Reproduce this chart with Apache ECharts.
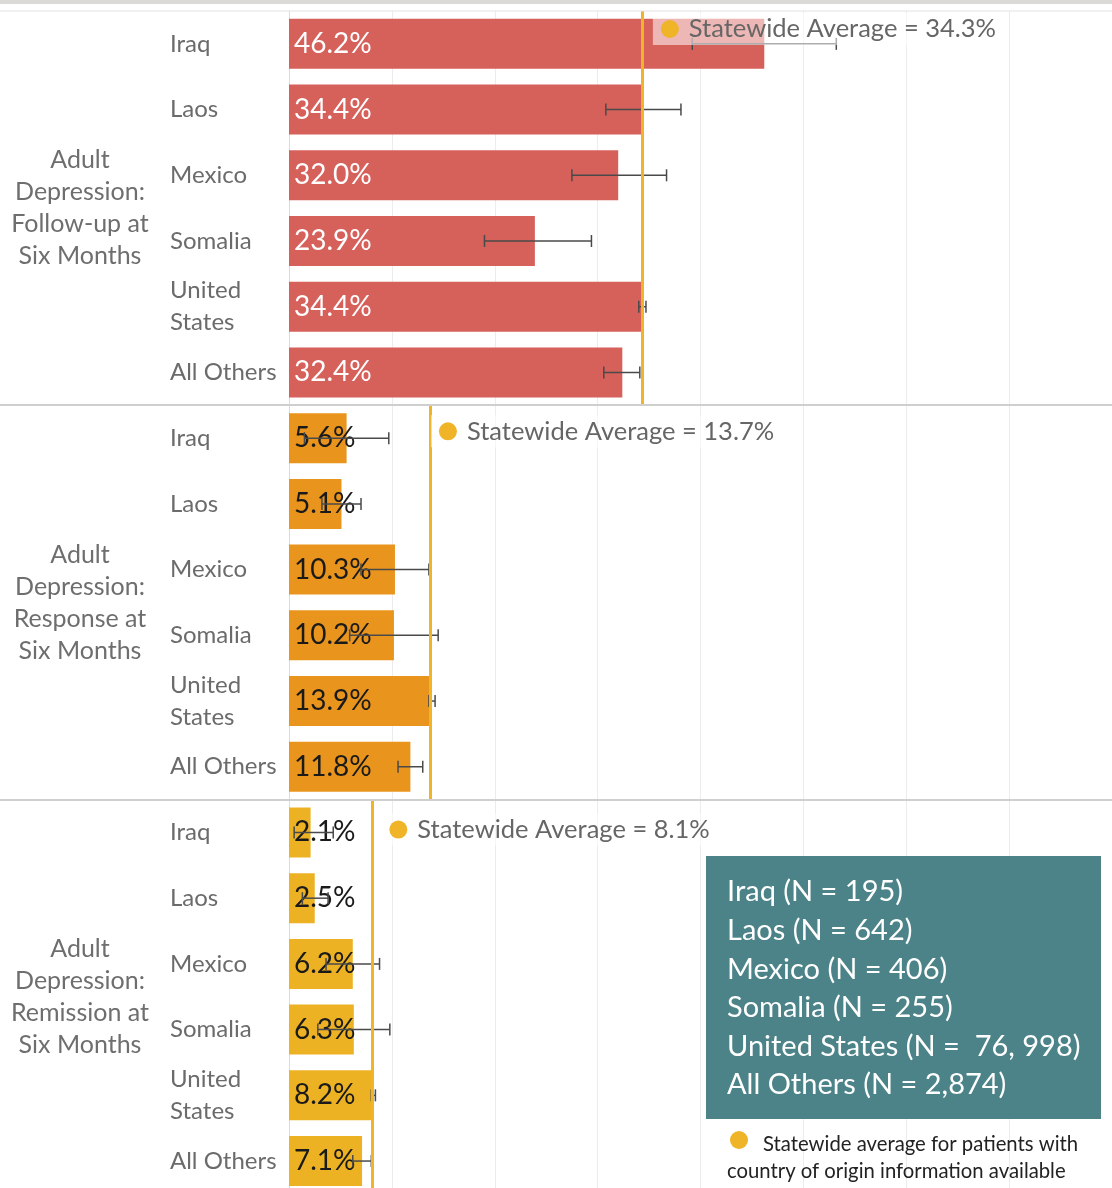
<!DOCTYPE html>
<html>
<head>
<meta charset="utf-8">
<script src="https://cdn.jsdelivr.net/npm/echarts@6/dist/echarts.min.js"></script>
<style>
  html, body { margin: 0; padding: 0; background: #fff; }
  #chart { width: 1112px; height: 1188px; }
</style>
</head>
<body>
<div id="chart"></div>
<script>
// Countries of origin, top to bottom in every panel
const categories = ['Iraq', 'Laos', 'Mexico', 'Somalia', 'United States', 'All Others'];

// Panel titles
const groupNames = [
  'Adult\nDepression:\nFollow-up at\nSix Months',
  'Adult\nDepression:\nResponse at\nSix Months',
  'Adult\nDepression:\nRemission at\nSix Months'
];

// Rates (%) with confidence interval bounds
const followUp     = [46.2, 34.4, 32.0, 23.9, 34.4, 32.4];
const followUpLow  = [39.2, 30.8, 27.5, 19.0, 34.0, 30.6];
const followUpHigh = [53.2, 38.1, 36.7, 29.4, 34.7, 34.1];

const response     = [5.6, 5.1, 10.3, 10.2, 13.9, 11.8];
const responseLow  = [1.5, 3.2, 7.0, 5.9, 13.6, 10.6];
const responseHigh = [9.7, 7.0, 13.6, 14.5, 14.2, 13.0];

const remission     = [2.1, 2.5, 6.2, 6.3, 8.2, 7.1];
const remissionLow  = [0.5, 1.3, 3.6, 2.8, 8.0, 6.2];
const remissionHigh = [4.3, 3.8, 8.8, 9.8, 8.4, 8.0];

// Statewide averages per panel
const statewide = [34.3, 13.7, 8.1];

// Sample sizes shown in the note box
const sampleSizes = [
  'Iraq (N = 195)',
  'Laos (N = 642)',
  'Mexico (N = 406)',
  'Somalia (N = 255)',
  'United States (N =  76, 998)',
  'All Others (N = 2,874)'
];
const noteText = ['Statewide average for patients with', 'country of origin information available'];

const FONT = 'Lato, "Noto Sans", sans-serif';
const panels = [
  { values: followUp, low: followUpLow, high: followUpHigh, color: '#d6605a', labelColor: '#ffffff' },
  { values: response, low: responseLow, high: responseHigh, color: '#e8941d', labelColor: '#1a1a1a' },
  { values: remission, low: remissionLow, high: remissionHigh, color: '#ecb224', labelColor: '#1a1a1a' }
];
const GOLD = '#f0b429';
const W = 1112, H = 1188;
const PANEL_TOP = 11, PANEL_H = 394.3;

const chart = echarts.init(document.getElementById('chart'), null, { renderer: 'canvas', width: W, height: H });

const grids = [], xAxes = [], yAxes = [], series = [];
panels.forEach((p, i) => {
  const top = PANEL_TOP + i * PANEL_H;
  // the last panel runs a little past the bottom edge of the page
  grids.push({ left: 289, right: 0, top: top, height: PANEL_H, outerBoundsMode: 'none', containLabel: false });
  xAxes.push({
    type: 'value', gridIndex: i, min: 0, max: 80, interval: 10,
    axisLabel: { show: false }, axisLine: { show: false }, axisTick: { show: false },
    splitLine: { lineStyle: { color: '#ececec', width: 1 } }
  });
  yAxes.push({
    type: 'category', gridIndex: i, data: categories, inverse: true,
    axisLine: { show: true, lineStyle: { color: '#dcdcdc', width: 1 } },
    axisTick: { show: false },
    axisLabel: {
      align: 'left', margin: 119, color: '#6b6b6b', fontFamily: FONT, fontSize: 24, lineHeight: 32,
      formatter: v => v === 'United States' ? 'United\nStates' : v
    }
  });
  series.push({
    type: 'bar', xAxisIndex: i, yAxisIndex: i, data: p.values, barWidth: 50, z: 2,
    itemStyle: { color: p.color },
    label: {
      show: true, position: 'insideLeft', distance: 5,
      color: p.labelColor, fontFamily: FONT, fontSize: 28,
      formatter: prm => prm.value.toFixed(1) + '%'
    },
    markLine: {
      silent: true, symbol: 'none', z: 4,
      lineStyle: { color: GOLD, width: 3, type: 'solid' },
      label: { show: false },
      data: [{ xAxis: statewide[i] }]
    }
  });
  // Confidence interval whiskers
  series.push({
    type: 'custom', xAxisIndex: i, yAxisIndex: i, z: 3,
    data: p.values.map((v, k) => [k, p.low[k], p.high[k]]),
    renderItem: (params, api) => {
      const k = api.value(0);
      const a = api.coord([api.value(1), k]);
      const b = api.coord([api.value(2), k]);
      const cap = 6;
      const st = { stroke: '#4a4a4a', lineWidth: 1.5 };
      return {
        type: 'group',
        children: [
          { type: 'line', shape: { x1: a[0], y1: a[1], x2: b[0], y2: b[1] }, style: st },
          { type: 'line', shape: { x1: a[0], y1: a[1] - cap, x2: a[0], y2: a[1] + cap }, style: st },
          { type: 'line', shape: { x1: b[0], y1: b[1] - cap, x2: b[0], y2: b[1] + cap }, style: st }
        ]
      };
    },
    encode: { y: 0, x: [1, 2] }
  });
});

chart.setOption({
  animation: false,
  backgroundColor: '#ffffff',
  grid: grids, xAxis: xAxes, yAxis: yAxes, series: series
});

// Decorations placed through the axes' own scales
const graphics = [];
graphics.push({ type: 'rect', shape: { x: 0, y: 0, width: W, height: 4 }, style: { fill: '#dcdad7' }, z: 10 });
graphics.push({ type: 'line', shape: { x1: 0, y1: PANEL_TOP, x2: W, y2: PANEL_TOP }, style: { stroke: '#e2e2e2', lineWidth: 1 }, z: 10 });
[1, 2].forEach(i => {
  const y = Math.round(PANEL_TOP + i * PANEL_H);
  graphics.push({ type: 'line', shape: { x1: 0, y1: y, x2: W, y2: y }, style: { stroke: '#cfcfcf', lineWidth: 2 }, z: 10 });
});

const avgLabelDy = [18, 26, 30];
const avgLabelDx = [28, 18, 26];
panels.forEach((p, i) => {
  const top = PANEL_TOP + i * PANEL_H;
  // group title
  graphics.push({
    type: 'text', x: 80, y: top + PANEL_H / 2, z: 10,
    style: {
      text: groupNames[i], fill: '#6e6e6e', font: '25px ' + FONT,
      textAlign: 'center', textVerticalAlign: 'middle', lineHeight: 32
    }
  });
  // statewide average label
  const px = chart.convertToPixel({ xAxisIndex: i }, statewide[i]);
  const cx = px + avgLabelDx[i], cy = top + avgLabelDy[i];
  graphics.push({
    type: 'rect', z: 20,
    shape: { x: cx - 17, y: cy - 16, width: 345, height: 32 },
    style: { fill: 'rgba(255,255,255,0.55)' }
  });
  graphics.push({ type: 'circle', z: 21, shape: { cx: cx, cy: cy, r: 9 }, style: { fill: GOLD } });
  graphics.push({
    type: 'text', x: cx + 19, y: cy, z: 21,
    style: {
      text: 'Statewide Average = ' + statewide[i].toFixed(1) + '%',
      fill: '#666666', font: '25.5px ' + FONT, textVerticalAlign: 'middle'
    }
  });
});

// Sample size note box
graphics.push({ type: 'rect', z: 30, shape: { x: 706, y: 856, width: 395, height: 263 }, style: { fill: '#4b8388' } });
sampleSizes.forEach((t, k) => {
  graphics.push({
    type: 'text', z: 31, x: 727, y: 892 + k * 38.6,
    style: { text: t, fill: '#ffffff', font: '29px ' + FONT, textVerticalAlign: 'middle' }
  });
});
graphics.push({ type: 'circle', z: 31, shape: { cx: 739, cy: 1140, r: 9 }, style: { fill: GOLD } });
graphics.push({
  type: 'text', z: 31, x: 763, y: 1144,
  style: { text: noteText[0], fill: '#222222', font: '20.3px ' + FONT, textVerticalAlign: 'middle' }
});
graphics.push({
  type: 'text', z: 31, x: 727, y: 1171,
  style: { text: noteText[1], fill: '#222222', font: '20.3px ' + FONT, textVerticalAlign: 'middle' }
});

chart.setOption({ graphic: graphics });
</script>
</body>
</html>
